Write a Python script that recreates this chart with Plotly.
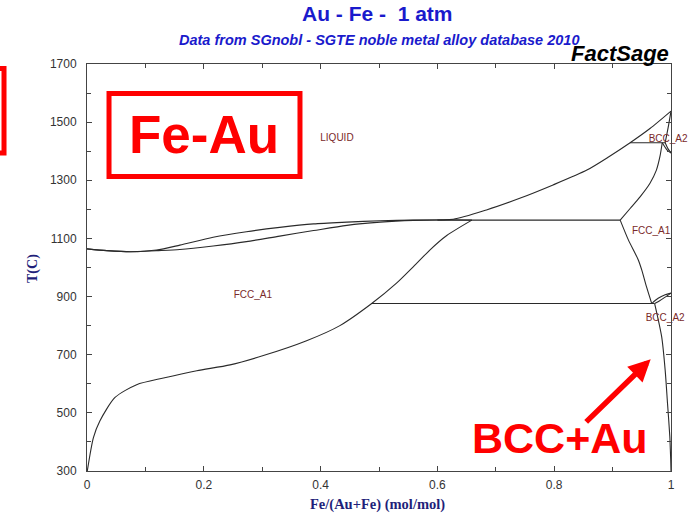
import plotly.graph_objects as go

# ---------------- data ----------------
liq_x = [0, 0.034, 0.074, 0.119, 0.159, 0.216, 0.273, 0.330, 0.388, 0.445, 0.502, 0.559, 0.627,
         0.684, 0.741, 0.798, 0.856, 0.893, 0.930, 0.964, 1.0]
liq_T = [1064, 1058, 1054, 1060, 1077, 1104, 1123, 1138, 1150, 1156, 1161, 1163, 1166,
         1198, 1238, 1284, 1335, 1380, 1429, 1478, 1538]

sol_x = [0, 0.034, 0.074, 0.119, 0.159, 0.216, 0.273, 0.330, 0.388, 0.445, 0.502, 0.559, 0.616, 0.659]
sol_T = [1064, 1058, 1054, 1058, 1062, 1074, 1089, 1108, 1127, 1145, 1156, 1162, 1164, 1163]

fccau_x = [0.0005, 0.011, 0.022, 0.048, 0.085, 0.131, 0.188, 0.245, 0.302, 0.376, 0.433,
           0.4875, 0.530, 0.559, 0.587, 0.616, 0.659]
fccau_T = [300, 415, 472, 553, 597, 620, 645, 665, 697, 748, 800, 876, 946, 1003, 1060, 1110, 1163]

perit_x = [0.60, 0.913]
perit_T = [1163, 1163]

gfe_up_x = [0.913, 0.930, 0.947, 0.964, 0.975, 0.981, 0.985]
gfe_up_T = [1163, 1203, 1243, 1290, 1335, 1381, 1429]

gfe_lo_x = [0.913, 0.927, 0.944, 0.950, 0.958, 0.967]
gfe_lo_T = [1163, 1095, 1026, 991, 934, 876]

eutd_x = [0.4875, 0.972]
eutd_T = [876, 876]

delta_per_x = [0.930, 0.990]
delta_per_T = [1429, 1429]

delta_sol_x = [0.990, 0.995, 1.0]
delta_sol_T = [1429, 1480, 1538]

delta_g1_x = [0.990, 0.995, 1.0]
delta_g1_T = [1429, 1408, 1394]

delta_g2_x = [0.985, 0.993, 1.0]
delta_g2_T = [1429, 1405, 1394]

ag1_x = [0.967, 0.978, 0.990, 1.0]
ag1_T = [876, 894, 906, 912]

ag2_x = [0.972, 0.980, 0.990, 1.0]
ag2_T = [876, 885, 898, 912]

asolv_x = [0.972, 0.984, 0.990, 0.994, 0.998, 0.999, 0.9995, 1.0]
asolv_T = [876, 762, 647, 533, 418, 366, 340, 300]

phase_labels = ["LIQUID", "FCC_A1", "BCC_A2", "FCC_A1", "BCC_A2"]
phase_x = [0.428, 0.284, 0.995, 0.966, 0.990]
phase_T = [1444, 903, 1441, 1123, 825]

x_ticks = [0, 0.2, 0.4, 0.6, 0.8, 1]
x_tick_text = ["0", "0.2", "0.4", "0.6", "0.8", "1"]
y_ticks = [300, 500, 700, 900, 1100, 1300, 1500, 1700]

# ---------------- figure ----------------
LINE = "#2a2a2a"
fig = go.Figure()
curves = [
    (liq_x, liq_T, True), (sol_x, sol_T, True), (fccau_x, fccau_T, True), (perit_x, perit_T, False),
    (gfe_up_x, gfe_up_T, True), (gfe_lo_x, gfe_lo_T, True), (eutd_x, eutd_T, False),
    (delta_per_x, delta_per_T, False), (delta_sol_x, delta_sol_T, True), (delta_g1_x, delta_g1_T, True),
    (delta_g2_x, delta_g2_T, True), (ag1_x, ag1_T, True), (ag2_x, ag2_T, True), (asolv_x, asolv_T, True),
]
for cx, cy, smooth in curves:
    ln = dict(color=LINE, width=1.1)
    if smooth:
        ln.update(shape="spline", smoothing=0.7)
    fig.add_trace(go.Scatter(x=cx, y=cy, mode="lines", line=ln,
                             hoverinfo="skip", showlegend=False, cliponaxis=False))

fig.add_trace(go.Scatter(x=phase_x, y=phase_T, mode="text", text=phase_labels,
                         textfont=dict(family="Liberation Sans, Arial", size=10, color="#7a2a2a"),
                         showlegend=False, hoverinfo="skip", cliponaxis=False))

axis_common = dict(showline=True, linecolor="#444", linewidth=1, mirror="ticks",
                   ticks="inside", ticklen=5, tickcolor="#444", showgrid=False, zeroline=False,
                   tickfont=dict(family="Liberation Sans, Arial", size=12, color="#333"))

fig.update_xaxes(range=[0, 1], tickvals=x_ticks, ticktext=x_tick_text, ticklabelstandoff=3,
                 minor=dict(dtick=0.1, tick0=0, ticks="inside", ticklen=4, tickcolor="#444"),
                 **axis_common)
fig.update_yaxes(range=[300, 1700], tickvals=y_ticks, ticklabelstandoff=7,
                 minor=dict(dtick=100, tick0=300, ticks="inside", ticklen=4, tickcolor="#444"),
                 **axis_common)

anns = [
    dict(text="<b>Au - Fe -  1 atm</b>", x=0.4966, y=1.123, font=dict(family="Liberation Sans, Arial", size=21, color="#1a1acc")),
    dict(text="<b><i>Data from SGnobl - SGTE noble metal alloy database 2010</i></b>", x=0.5, y=1.059,
         font=dict(family="Liberation Sans, Arial", size=14.5, color="#1a1acc")),
    dict(text="<b><i>FactSage</i></b>", x=1.0, y=1.027, xanchor="right",
         font=dict(family="Liberation Sans, Arial", size=22, color="#000")),
    dict(text="<b>T(C)</b>", x=-0.0925, y=0.4988, textangle=-90,
         font=dict(family="Liberation Serif, Times New Roman", size=14, color="#1f1f7a")),
    dict(text="<b>Fe/(Au+Fe) (mol/mol)</b>", x=0.498, y=-0.0835,
         font=dict(family="Liberation Serif, Times New Roman", size=14.5, color="#1f1f7a")),
    dict(text="<b>Fe-Au</b>", x=0.1995, y=0.8256,
         font=dict(family="Liberation Sans, Arial", size=53, color="#ff0000")),
    dict(text="<b>BCC+Au</b>", x=0.81, y=0.081,
         font=dict(family="Liberation Sans, Arial", size=43, color="#ff0000")),
]
for a in anns:
    a.setdefault("xanchor", "center")
    fig.add_annotation(xref="paper", yref="paper", yanchor="middle", showarrow=False, **a)

fig.add_annotation(xref="paper", yref="paper", x=0.9652, y=0.2744, ax=-66, ay=64, text="",
                   showarrow=True, arrowhead=2, arrowsize=0.8, arrowwidth=5.5, arrowcolor="#ff0000")

fig.add_shape(type="rect", xref="paper", yref="paper", x0=0.0377, x1=0.3647, y0=0.7236, y1=0.9275,
              line=dict(color="#ff0000", width=5), fillcolor="rgba(0,0,0,0)")
fig.add_shape(type="rect", xref="paper", yref="paper", x0=-0.35, x1=-0.1421, y0=0.7813, y1=0.9889,
              line=dict(color="#ff0000", width=5), fillcolor="rgba(0,0,0,0)")

fig.update_layout(width=691, height=521, margin=dict(l=87, r=20, t=64, b=50),
                  paper_bgcolor="white", plot_bgcolor="white", showlegend=False)

fig.write_html("out.html", config={"displayModeBar": False},
               post_script="document.body.style.margin='0px';")
